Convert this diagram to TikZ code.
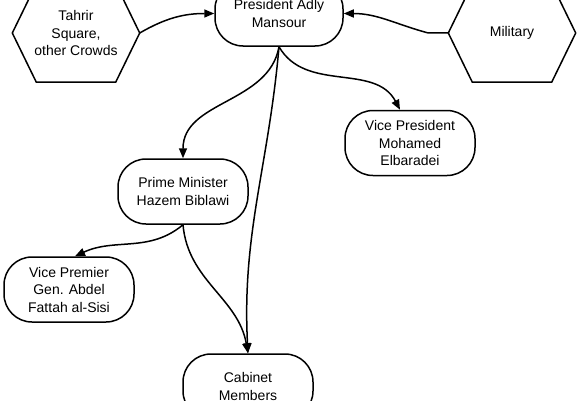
\documentclass[tikz,border=0pt]{standalone}
\usepackage{fontspec}
\setmainfont{Liberation Sans}
\usetikzlibrary{arrows.meta}

\tikzset{
  office/.style={draw, line width=1.5pt, rounded corners=28pt, minimum width=130pt, minimum height=65pt, align=center, inner sep=0pt},
  actor/.style={minimum width=127pt, minimum height=98pt, align=center, inner sep=0pt},
  link/.style={line width=1.5pt, -{Triangle[length=10pt,width=8pt]}}
}

\begin{document}
\begin{tikzpicture}[x=1pt,y=1pt,font=\fontsize{14}{17.5}\selectfont]
\useasboundingbox (0,0) rectangle (580,400);
\fill[white] (0,0) rectangle (580,400);
% outside groups
\node[actor] (tahrir) at (76,367) {Tahrir\\Square,\\other Crowds};
\node[actor] (mil) at (512,367) {Military};
\foreach \n in {tahrir,mil}
  \draw[line width=1.5pt, line join=round] (\n.west) -- ([xshift=24pt]\n.north west) -- ([xshift=-24pt]\n.north east) -- (\n.east) -- ([xshift=-24pt]\n.south east) -- ([xshift=24pt]\n.south west) -- cycle;
% offices
\node[office, minimum width=128pt] (pres) at (279,386.5) {President Adly\\Mansour};
\node[office] (vp) at (410,257) {Vice President\\Mohamed\\Elbaradei};
\node[office] (pm) at (183,208.5) {Prime Minister\\Hazem Biblawi};
\node[office] (vprem) at (69,110.5) {Vice Premier\\Gen. Abdel\\Fattah al-Sisi};
\node[office] (cab) at (248,13.5) {Cabinet\\Members};
% links
\draw[link] (tahrir.east) to[out=30,in=180] (pres.west);
\draw[link] (mil.west) -- ++(-20,0) to[out=165,in=0] (pres.east);
\draw[link] (pres.south) to[out=-100,in=90] (pm.north);
\draw[link] (pres.south) to[out=-95,in=93] (cab.north);
\draw[link] (pres.south) to[out=-60,in=118] ([xshift=-10pt]vp.north);
\draw[link] (pm.south) to[out=-140,in=25] ([xshift=6pt]vprem.north);
\draw[link] (pm.south) to[out=-85,in=100] (cab.north);
\end{tikzpicture}
\end{document}
